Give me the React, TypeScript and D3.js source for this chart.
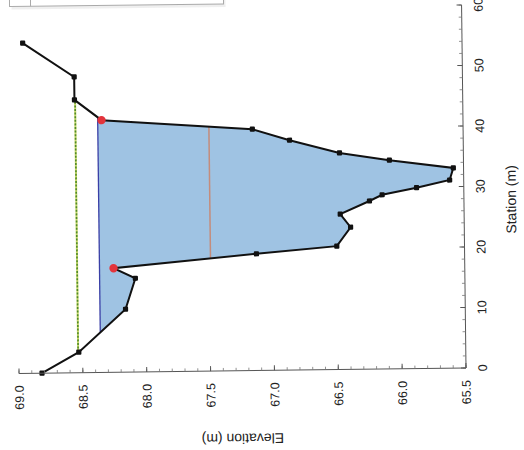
import React from "react";
import * as d3 from "d3";

// Ground profile (station m, elevation m)
const stations = [0, 3.4, 10.4, 15.5, 17.2, 19.3, 20.4, 23.5, 25.7, 27.8, 28.8, 29.9, 31.1, 33.1, 34.5, 35.8, 38.0, 39.9, 41.7, 45.1, 48.9, 54.6];
const elevations = [68.82, 68.53, 68.16, 68.08, 68.25, 67.13, 66.5, 66.39, 66.47, 66.24, 66.14, 65.87, 65.61, 65.58, 66.08, 66.47, 66.86, 67.15, 68.33, 68.54, 68.54, 68.94];
// bank markers
const bankStations = [17.2, 41.7];
const bankElevations = [68.25, 68.33];
// water surface
const wsElevation = 68.36;
// dashed level line
const levelStations = [3.4, 45.1];
const levelElevation = 68.535;
// orange line
const midStations = [18.6, 40.4];
const midElevation = 67.49;

const elevTicks = [69.0, 68.5, 68.0, 67.5, 67.0, 66.5, 66.0, 65.5];
const stationTicks = [0, 10, 20, 30, 40, 50, 60];

const FONT = "'Liberation Sans', Arial, sans-serif";

export default function App() {
  const W = 524, H = 450;
  const x = d3.scaleLinear().domain([69.0, 65.5]).range([19, 466]); // elevation -> screen x
  const y = d3.scaleLinear().domain([0, 60]).range([368, 5]); // station -> screen y

  const ground = stations.map((s, i) => ({ s, e: elevations[i] }));

  // water polygon: ground clipped below water surface
  const poly: [number, number][] = [];
  let started = false;
  for (let i = 0; i < ground.length - 1; i++) {
    const a = ground[i], b = ground[i + 1];
    const aIn = a.e <= wsElevation, bIn = b.e <= wsElevation;
    if (aIn) poly.push([a.s, a.e]);
    if (aIn !== bIn) {
      const t = (wsElevation - a.e) / (b.e - a.e);
      const s = a.s + t * (b.s - a.s);
      poly.push([s, wsElevation]);
      if (!started) started = true;
    }
  }
  const polyPath = d3.line<[number, number]>().x(d => x(d[1])).y(d => y(d[0]))(poly) + "Z";
  const wsStations = [poly[0][0], poly[poly.length - 1][0]];

  const groundPath = d3.line<{ s: number; e: number }>().x(d => x(d.e)).y(d => y(d.s))(ground) || "";

  const elevMinor = d3.range(0, 36).map(i => 69.0 - i * 0.1);
  const stationMinor = d3.range(0, 31).map(i => i * 2);

  return (
    <svg width={W} height={H} style={{ position: "absolute", left: 0, top: 0, background: "#fff" }}>
      <g transform="rotate(-0.7, 466, 368)">
        {/* legend box (cut off at top) */}
        <rect x={16} y={-38} width={214} height={42} fill="#e4e4e4" opacity={0.6} />
        <rect x={14} y={-40} width={214} height={41} fill="#fff" stroke="#aaa" strokeWidth={1} />
        <line x1={35} x2={35} y1={-40} y2={1} stroke="#aaa" />

        {/* water fill */}
        <path d={polyPath} fill="#9fc3e3" stroke="none" />
        {/* water surface */}
        <line x1={x(wsElevation)} x2={x(wsElevation)} y1={y(wsStations[0])} y2={y(wsStations[1])} stroke="#3a3fa6" strokeWidth={1.3} />
        {/* orange line */}
        <line x1={x(midElevation)} x2={x(midElevation)} y1={y(midStations[0])} y2={y(midStations[1])} stroke="#c48c7c" strokeWidth={1.5} />
        {/* dashed level line */}
        <line x1={x(levelElevation)} x2={x(levelElevation)} y1={y(levelStations[0])} y2={y(levelStations[1])} stroke="#c8d86a" strokeWidth={2} />
        <line x1={x(levelElevation)} x2={x(levelElevation)} y1={y(levelStations[0])} y2={y(levelStations[1])} stroke="#4f8a2a" strokeWidth={1.6} strokeDasharray="2,1.6" />

        {/* ground */}
        <path d={groundPath} fill="none" stroke="#111" strokeWidth={2} />
        {ground.map((d, i) => (
          <rect key={i} x={x(d.e) - 2.6} y={y(d.s) - 2.6} width={5.2} height={5.2} rx={1} fill="#111" />
        ))}
        {bankStations.map((s, i) => (
          <circle key={i} cx={x(bankElevations[i])} cy={y(s)} r={4.2} fill="#e3343c" />
        ))}

        {/* elevation axis (bottom) */}
        <line x1={x(69.0)} x2={x(65.5)} y1={368} y2={368} stroke="#555" strokeWidth={1} />
        {elevMinor.map((e, i) => (
          <line key={i} x1={x(e)} x2={x(e)} y1={368} y2={365} stroke="#777" strokeWidth={0.8} />
        ))}
        {elevTicks.map((e, i) => (
          <g key={i}>
            <line x1={x(e)} x2={x(e)} y1={368} y2={363} stroke="#555" strokeWidth={1} />
            <text transform={`translate(${x(e) + 4.5},${380}) rotate(-90)`} textAnchor="end" fontFamily={FONT} fontSize={12.5} fill="#222">
              {e.toFixed(1)}
            </text>
          </g>
        ))}
        <text transform={`translate(${242},${431}) rotate(180)`} textAnchor="middle" fontFamily={FONT} fontSize={14} fill="#222">
          Elevation (m)
        </text>

        {/* station axis (right) */}
        <line x1={466} x2={466} y1={368} y2={y(60)} stroke="#555" strokeWidth={1} />
        {stationMinor.map((s, i) => (
          <line key={i} x1={466} x2={463} y1={y(s)} y2={y(s)} stroke="#777" strokeWidth={0.8} />
        ))}
        {stationTicks.map((s, i) => (
          <g key={i}>
            <line x1={466} x2={461} y1={y(s)} y2={y(s)} stroke="#555" strokeWidth={1} />
            <text transform={`translate(${487},${y(s)}) rotate(-90)`} textAnchor="middle" fontFamily={FONT} fontSize={12.5} fill="#222">
              {s}
            </text>
          </g>
        ))}
        <text transform={`translate(${518},${200}) rotate(-90)`} textAnchor="middle" fontFamily={FONT} fontSize={14} fill="#222">
          Station (m)
        </text>
      </g>
    </svg>
  );
}
